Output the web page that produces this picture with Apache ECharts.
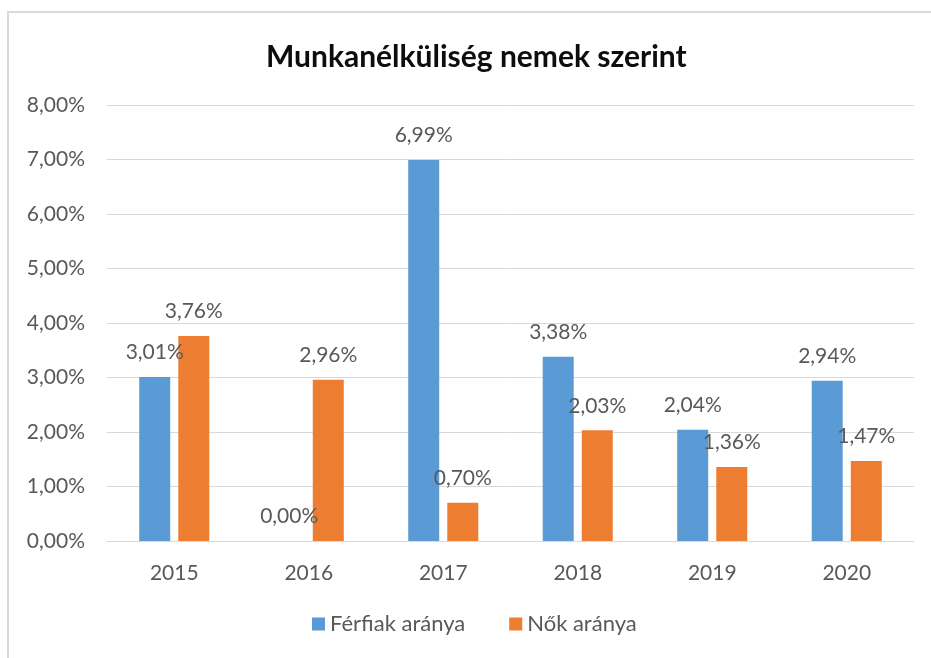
<!DOCTYPE html>
<html>
<head>
<meta charset="utf-8">
<script src="https://cdn.jsdelivr.net/npm/echarts@6/dist/echarts.min.js"></script>
<style>
  html, body { margin: 0; padding: 0; background: #fff; }
  #chart { width: 931px; height: 658px; }
</style>
</head>
<body>
<div id="chart"></div>
<script>
  // adatok
  var years = ['2015', '2016', '2017', '2018', '2019', '2020'];
  var ferfiak = [3.01, 0.00, 6.99, 3.38, 2.04, 2.94];
  var nok = [3.76, 2.96, 0.70, 2.03, 1.36, 1.47];
  var seriesNames = ['Férfiak aránya', 'Nők aránya'];
  var titleText = 'Munkanélküliség nemek szerint';

  var font = 'Lato, "Liberation Sans", sans-serif';
  var textColor = '#595959';

  function pct(v) {
    return v.toFixed(2).replace('.', ',') + '%';
  }

  var chart = echarts.init(document.getElementById('chart'));

  var labelStyle = {
    show: true,
    position: 'top',
    distance: 14,
    color: textColor,
    fontFamily: font,
    fontSize: 21,
    formatter: function (p) { return pct(p.value); }
  };

  chart.setOption({
    animation: false,
    backgroundColor: '#fff',
    graphic: [{
      type: 'rect',
      shape: { x: 8, y: 12, width: 1000, height: 1000 },
      style: { fill: 'none', stroke: '#d9d9d9', lineWidth: 2 },
      z: -1
    }],
    title: {
      text: titleText,
      left: 261,
      top: 37,
      textStyle: {
        fontFamily: font,
        fontWeight: 'bold',
        fontSize: 30,
        color: '#0d0d0d'
      }
    },
    legend: {
      bottom: 18,
      left: 307,
      itemWidth: 13,
      itemHeight: 13,
      itemGap: 44,
      icon: 'rect',
      textStyle: { color: textColor, fontFamily: font, fontSize: 22 },
      data: seriesNames
    },
    grid: {
      left: 107,
      right: 17,
      top: 105,
      bottom: 117
    },
    xAxis: {
      type: 'category',
      data: years,
      axisLine: { lineStyle: { color: '#d9d9d9' } },
      axisTick: { show: false },
      axisLabel: { color: textColor, fontFamily: font, fontSize: 21, margin: 22 }
    },
    yAxis: {
      type: 'value',
      min: 0,
      max: 8,
      interval: 1,
      axisLine: { show: false },
      axisTick: { show: false },
      splitLine: { lineStyle: { color: '#d9d9d9', width: 1 } },
      axisLabel: {
        color: textColor,
        fontFamily: font,
        fontSize: 21,
        margin: 22,
        formatter: function (v) { return pct(v); }
      }
    },
    series: [{
      name: seriesNames[0],
      type: 'bar',
      data: ferfiak,
      barWidth: 31,
      barGap: '26%',
      itemStyle: { color: '#5b9bd5' },
      label: labelStyle
    }, {
      name: seriesNames[1],
      type: 'bar',
      data: nok,
      barWidth: 31,
      itemStyle: { color: '#ed7d31' },
      label: labelStyle
    }]
  });
</script>
</body>
</html>
